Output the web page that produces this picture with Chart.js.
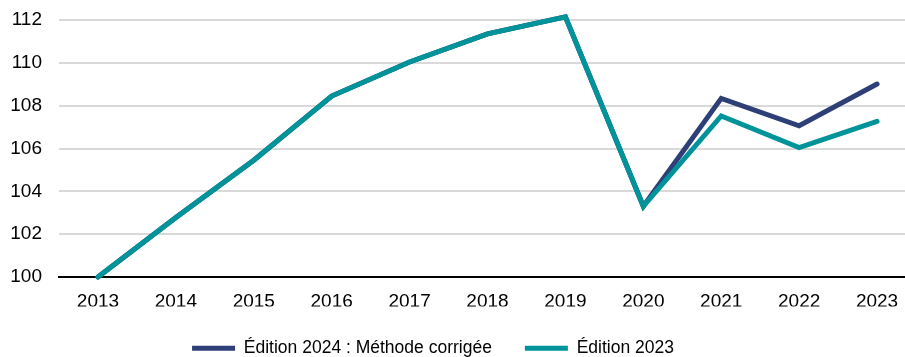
<!DOCTYPE html>
<html>
<head>
<meta charset="utf-8">
<script src="https://cdn.jsdelivr.net/npm/chart.js@4/dist/chart.umd.min.js"></script>
<style>
  html, body { margin: 0; padding: 0; background: #fff; overflow: hidden; width: 905px; height: 357px; }
  #wrap { position: relative; width: 916px; height: 357px; }
</style>
</head>
<body>
<div id="wrap"><canvas id="c"></canvas></div>
<script>
const years = ['2013','2014','2015','2016','2017','2018','2019','2020','2021','2022','2023'];
const edition2024 = [100, 102.78, 105.45, 108.45, 110.04, 111.35, 112.15, 103.3, 108.34, 107.06, 109.01];
const edition2023 = [100, 102.78, 105.45, 108.45, 110.04, 111.35, 112.15, 103.3, 107.52, 106.04, 107.27];
const seriesNames = ['Édition 2024 : Méthode corrigée', 'Édition 2023'];
const yTicks = [100, 102, 104, 106, 108, 110, 112];

const NAVY = '#2e3f78';
const TEAL = '#00949a';
const FONT = "'Liberation Sans', Arial, sans-serif";

const legendShift = {
  id: 'legendShift',
  afterLayout(chart) {
    const l = chart.legend;
    if (l) { l.left -= 25; l.right -= 25; }
  }
};

new Chart(document.getElementById('c'), {
  type: 'line',
  data: {
    labels: years,
    datasets: [
      {
        label: seriesNames[0], data: edition2024, order: 1,
        borderColor: NAVY, backgroundColor: NAVY, borderWidth: 5,
        borderCapStyle: 'round', borderJoinStyle: 'miter',
        pointRadius: 0, pointStyle: 'line', tension: 0, clip: false
      },
      {
        label: seriesNames[1], data: edition2023, order: 0,
        borderColor: TEAL, backgroundColor: TEAL, borderWidth: 5,
        borderCapStyle: 'round', borderJoinStyle: 'miter',
        pointRadius: 0, pointStyle: 'line', tension: 0, clip: false
      }
    ]
  },
  options: {
    responsive: true,
    maintainAspectRatio: false,
    animation: false,
    layout: { padding: { top: 20, bottom: -10, left: 0, right: 0 } },
    plugins: {
      tooltip: { enabled: false },
      legend: {
        position: 'bottom',
        labels: {
          usePointStyle: true,
          pointStyle: 'line',
          pointStyleWidth: 43,
          boxWidth: 43,
          padding: 33,
          color: '#000',
          font: { family: FONT, size: 17.5 },
          sort: (a, b) => a.datasetIndex - b.datasetIndex
        }
      }
    },
    scales: {
      x: {
        type: 'category',
        offset: true,
        grid: { display: false, drawTicks: false },
        border: { display: true, color: '#000', width: 2 },
        ticks: { color: '#000', font: { family: FONT, size: 19 }, padding: 13, maxRotation: 0 },
        afterFit: (s) => { s.height = 29.5; }
      },
      y: {
        min: 100, max: 112,
        grid: { color: '#d9d9d9', lineWidth: 2, drawTicks: false },
        border: { display: false },
        afterBuildTicks: (s) => { s.ticks = yTicks.map(v => ({ value: v })); },
        ticks: { color: '#000', font: { family: FONT, size: 19 }, padding: 17 },
        afterFit: (s) => { s.width = 59; s.paddingTop = 10; s.paddingBottom = 10; }
      }
    }
  },
  plugins: [legendShift]
});
</script>
</body>
</html>
